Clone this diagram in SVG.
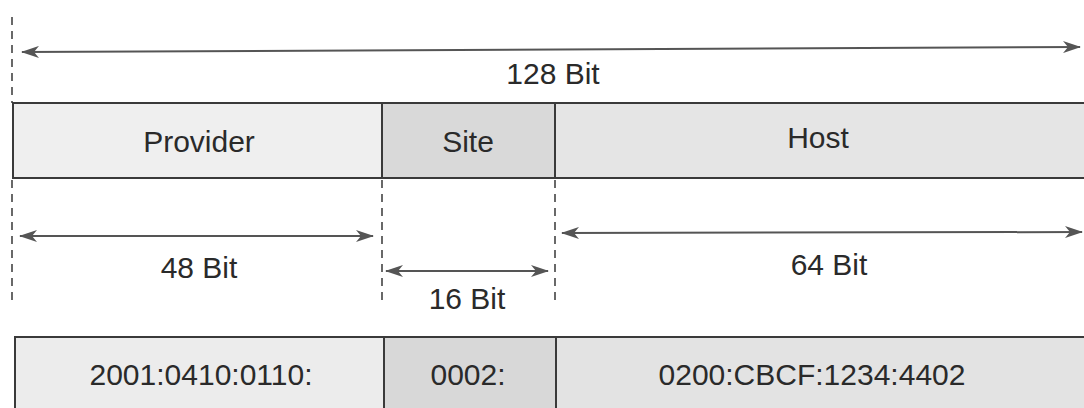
<svg xmlns="http://www.w3.org/2000/svg" width="1084" height="408" viewBox="0 0 1084 408">
<style>
.t{font-family:"Liberation Sans",Arial,sans-serif;font-size:30px;fill:#2a2a2a;text-anchor:middle}
.box{stroke:#3a3a3a;stroke-width:2}
.dash{stroke:#444;stroke-width:1.6;stroke-dasharray:8 6;fill:none}
.arr{stroke:#555;stroke-width:2;fill:none;marker-start:url(#ah);marker-end:url(#ah)}
</style>
<defs>
<marker id="ah" viewBox="0 0 18 12" refX="17" refY="6" markerWidth="18" markerHeight="12" markerUnits="userSpaceOnUse" orient="auto-start-reverse">
<path d="M0,0 L18,6 L0,12 L5,6 z" fill="#555"/>
</marker>
</defs>
<rect width="1084" height="408" fill="#fff"/>
<g id="connectors">
<line class="dash" x1="12" y1="17" x2="12" y2="103"/>
<line class="dash" x1="12" y1="180" x2="12" y2="300"/>
<line class="dash" x1="382" y1="180" x2="382" y2="302"/>
<line class="dash" x1="555" y1="180" x2="555" y2="305"/>
<line class="arr" x1="22" y1="52" x2="1080" y2="47"/>
<line class="arr" x1="20" y1="236" x2="373" y2="236"/>
<line class="arr" x1="386" y1="271" x2="548" y2="271"/>
<line class="arr" x1="562" y1="233" x2="1082" y2="232"/>
</g>
<g id="label-128"><text class="t" x="553" y="84">128 Bit</text></g>
<g id="provider">
<rect class="box" x="13" y="103" width="369" height="75" fill="#efefef"/>
<text class="t" x="199" y="152">Provider</text>
</g>
<g id="site">
<rect class="box" x="382" y="103" width="173" height="75" fill="#d9d9d9"/>
<text class="t" x="468" y="152">Site</text>
</g>
<g id="host">
<rect class="box" x="555" y="103" width="535" height="75" fill="#e5e5e5"/>
<text class="t" x="818" y="148">Host</text>
</g>
<g id="label-48"><text class="t" x="199" y="278">48 Bit</text></g>
<g id="label-16"><text class="t" x="467" y="309">16 Bit</text></g>
<g id="label-64"><text class="t" x="829" y="275">64 Bit</text></g>
<g id="addr-provider">
<rect class="box" x="15" y="337" width="369" height="80" fill="#ececec"/>
<text class="t" x="201" y="385">2001:0410:0110:</text>
</g>
<g id="addr-site">
<rect class="box" x="384" y="337" width="172" height="80" fill="#d8d8d8"/>
<text class="t" x="468" y="385">0002:</text>
</g>
<g id="addr-host">
<rect class="box" x="556" y="337" width="535" height="80" fill="#e3e3e3"/>
<text class="t" x="812" y="385">0200:CBCF:1234:4402</text>
</g>
</svg>
